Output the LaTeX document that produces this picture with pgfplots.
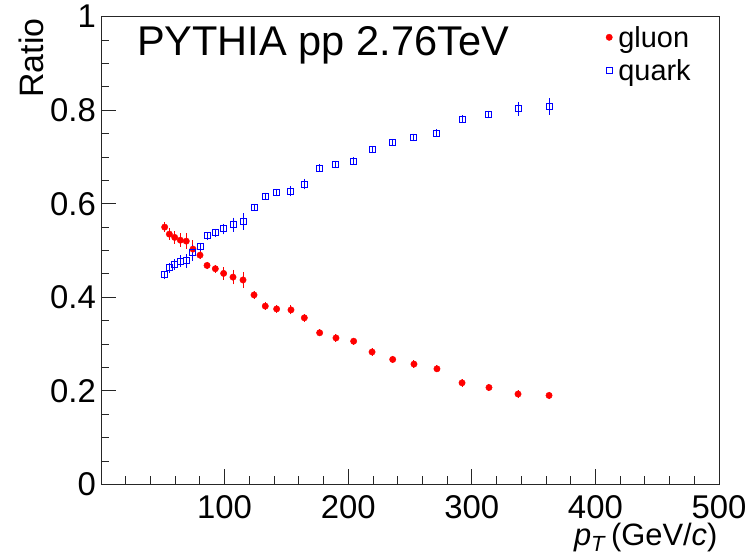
\documentclass[border=0pt]{standalone}
\usepackage{pgfplots}
\pgfplotsset{compat=1.18}
\usepackage{fontspec}
\setmainfont{Liberation Sans}

\begin{document}
\begin{tikzpicture}[x=1bp,y=1bp]
\path[use as bounding box] (0,0) rectangle (752,555);
\begin{axis}[
  at={(101bp,70.7bp)}, anchor=south west,
  scale only axis, width=618bp, height=467.6bp,
  xmin=0, xmax=500, ymin=0, ymax=1,
  xtick={100,200,300,400,500},
  minor xtick={20,40,...,480},
  ytick={0,0.2,0.4,0.6,0.8,1},
  yticklabels={0,0.2,0.4,0.6,0.8,1},
  minor y tick num=3,
  xtick pos=bottom, ytick pos=left, tick align=inside,
  major tick length=15bp, minor tick length=8bp,
  axis line style={line width=0.8bp, black!85},
  tick style={line width=0.8bp, black!85},
  /pgf/number format/assume math mode=true,
  ticklabel style={font=\fontsize{33}{38}\selectfont, inner sep=0pt},
  xticklabel style={yshift=-11bp},
  yticklabel style={xshift=-5bp},
  legend style={draw=none, fill=none, at={(0.812,0.991)}, anchor=north west,
    font=\fontsize{29}{33}\selectfont, row sep=5bp,
    nodes={inner xsep=6bp, inner ysep=3bp}},
  legend cell align=left,
  legend image code/.code={\draw[mark repeat=2,mark phase=2,#1] plot coordinates {(-9bp,0bp)(0bp,0bp)(9bp,0bp)};},
]
\addplot[only marks, mark=*, color=red, mark options={fill=red, draw=red}, mark size=3.2bp,
  error bars/.cd, y dir=both, y explicit,
  error bar style={line width=1bp, red},
  error mark options={line width=1bp, mark size=3bp, red}]
table[x=x, y=y, y error=e] {
x y e
51.5 0.550 0.004
55.3 0.535 0.006
59.6 0.528 0.007
64.2 0.522 0.008
69.0 0.520 0.010
74.4 0.503 0.013
80.1 0.490 0.002
85.8 0.468 0.002
92.5 0.461 0.002
99.2 0.451 0.007
106.8 0.443 0.009
114.9 0.437 0.011
123.8 0.405 0.0015
132.9 0.381 0.0015
142.1 0.375 0.0015
153.7 0.373 0.003
164.5 0.356 0.0015
176.9 0.324 0.0015
190.1 0.313 0.0015
204.4 0.306 0.0015
219.3 0.283 0.0015
236.0 0.267 0.0015
253.2 0.257 0.0015
271.8 0.247 0.0015
292.1 0.217 0.0015
313.9 0.207 0.0015
337.4 0.193 0.002
362.5 0.190 0.002
};
\addlegendentry{gluon}
\addplot[only marks, mark=square, color=blue, mark options={draw=blue, line width=1bp}, mark size=3bp,
  error bars/.cd, y dir=both, y explicit,
  error bar style={line width=1bp, blue},
  error mark options={line width=1bp, mark size=3bp, blue}]
table[x=x, y=y, y error=e] {
x y e
51.5 0.448 0.002
55.3 0.463 0.004
59.6 0.470 0.005
64.2 0.477 0.006
69.0 0.478 0.008
74.4 0.495 0.010
80.1 0.508 0.002
85.8 0.531 0.002
92.5 0.538 0.002
99.2 0.546 0.005
106.8 0.555 0.009
114.9 0.562 0.011
123.8 0.592 0.0015
132.9 0.616 0.0015
142.1 0.624 0.0015
153.7 0.627 0.005
164.5 0.642 0.005
176.9 0.676 0.0015
190.1 0.684 0.0015
204.4 0.691 0.0015
219.3 0.716 0.0015
236.0 0.731 0.0015
253.2 0.742 0.0015
271.8 0.751 0.0015
292.1 0.781 0.0015
313.9 0.791 0.0015
337.4 0.803 0.008
362.5 0.808 0.011
};
\addlegendentry{quark}
\node[anchor=base west, inner sep=0pt, font=\fontsize{41.7}{48}\selectfont] at (rel axis cs:0.058,0.916) {PYTHIA pp 2.76TeV};
\end{axis}
\node[rotate=90, anchor=base east, inner sep=0pt, font=\fontsize{34}{40}\selectfont] at (43.3,536.7) {Ratio};
\node[anchor=base east, inner sep=0pt, font=\fontsize{31}{36}\selectfont] at (717.6,9) {\textit{p}\raisebox{-6bp}{\fontsize{22}{24}\selectfont\textit{T}}\,(GeV/\textit{c})};
\end{tikzpicture}
\end{document}
